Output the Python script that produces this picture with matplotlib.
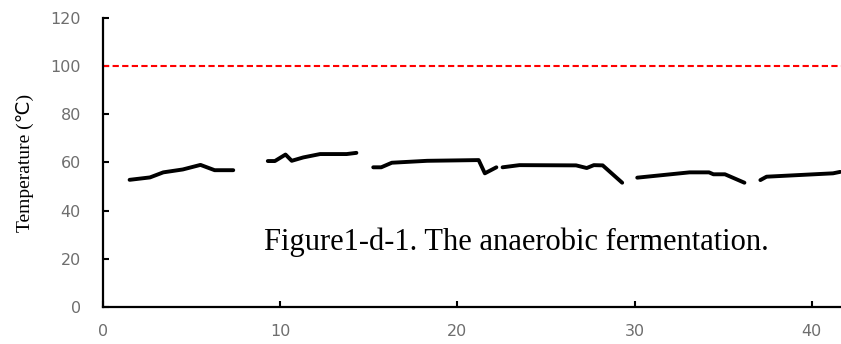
import numpy as np
import matplotlib
matplotlib.use("Agg")
import matplotlib.pyplot as plt

# temperature log, gaps between runs marked with nan
day = [1.5, 2.65, 3.4, 4.5, 5.5, 6.3, 7.35, np.nan,
       9.3, 9.7, 10.3, 10.65, 11.3, 12.25, 13.75, 14.3, np.nan,
       15.25, 15.7, 16.3, 18.3, 21.2, 21.55, 22.2, np.nan,
       22.55, 23.5, 26.7, 27.3, 27.7, 28.2, 29.3, np.nan,
       30.15, 33.1, 34.2, 34.45, 35.1, 36.2, np.nan,
       37.1, 37.45, 41.2, 41.6]
temp = [52.8, 53.8, 55.9, 57.1, 59.0, 56.8, 56.8, np.nan,
        60.6, 60.6, 63.3, 60.7, 62.1, 63.5, 63.5, 64.0, np.nan,
        58.0, 58.0, 59.9, 60.7, 61.0, 55.5, 58.0, np.nan,
        58.0, 58.9, 58.8, 57.7, 58.9, 58.8, 51.6, np.nan,
        53.7, 55.9, 55.9, 55.1, 55.1, 51.6, np.nan,
        52.7, 54.1, 55.5, 56.1]
limit = 100

xticks = [0, 10, 20, 30, 40]
yticks = [0, 20, 40, 60, 80, 100, 120]

fig = plt.figure(figsize=(8.41, 3.44), dpi=100)
ax = fig.add_axes([0.1225, 0.1076, 0.8775, 0.8401])

ax.plot(day, temp, color='black', linewidth=2.8, solid_capstyle='round')
ax.axhline(limit, color='#ff0000', linewidth=1.5, linestyle=(0, (3, 1.6)))

ax.set_xlim(0, 41.65)
ax.set_ylim(0, 120)
ax.set_xticks(xticks)
ax.set_yticks(yticks)
ax.tick_params(direction='in', length=4, width=1.5, labelsize=11.5,
               labelcolor='#6e6e6e', pad=12)
ax.tick_params(axis='y', pad=16)
for s in ['top', 'right']:
    ax.spines[s].set_visible(False)
for s in ['left', 'bottom']:
    ax.spines[s].set_linewidth(1.6)

ax.set_ylabel('Temperature (℃)', fontsize=14,
              family=['Liberation Serif', 'DejaVu Sans'], labelpad=12)
ax.text(0.56, 0.225, 'Figure1-d-1. The anaerobic fermentation.',
        transform=ax.transAxes, ha='center', va='center', fontsize=22,
        family='Liberation Serif')

fig.savefig('out.png', dpi=100)
